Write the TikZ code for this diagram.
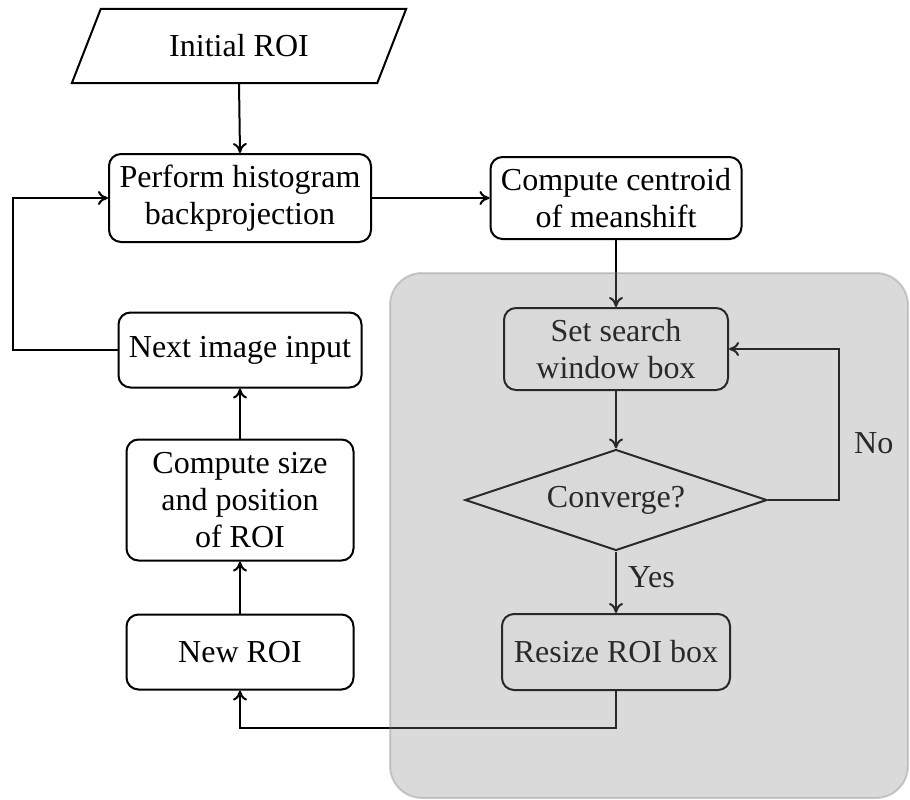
\documentclass[tikz,border=0pt]{standalone}
\usepackage{fontspec}
\setmainfont{Liberation Serif}
\usetikzlibrary{shapes.geometric,arrows.meta,calc}
\begin{document}
\begin{tikzpicture}[x=1pt,y=-1pt,
  every node/.style={font=\fontsize{32}{37}\selectfont, align=center, inner sep=2pt},
  box/.style={draw, line width=2pt, rounded corners=12pt, fill=white},
  conn/.style={line width=2pt, -{To[length=10pt,width=14pt]}},
  plain/.style={line width=2pt}
]
\useasboundingbox (0,0) rectangle (910,800);

% nodes
\node[minimum width=305pt, minimum height=74pt] (init) at (239,46) {Initial ROI};
\draw[plain, line join=miter] ($(init.south west)+(-14.5,0)$) -- ($(init.north west)+(14.5,0)$)
  -- ($(init.north east)+(14.5,0)$) -- ($(init.south east)+(-14.5,0)$) -- cycle;

\node[box, minimum width=262pt, minimum height=88pt] (perform) at (240,198) {Perform histogram\\backprojection};
\node[box, minimum width=251pt, minimum height=82pt] (centroid) at (616,198) {Compute centroid\\of meanshift};
\node[box, minimum width=243pt, minimum height=75pt] (next) at (240,350) {Next image input};
\node[box, minimum width=227pt, minimum height=121pt] (csize) at (240,500) {Compute size\\and position\\of ROI};
\node[box, minimum width=227pt, minimum height=75pt] (newroi) at (240,652) {New ROI};
\node[box, minimum width=224pt, minimum height=82pt] (setsearch) at (616,349) {Set search\\window box};
\node[draw, line width=2pt, shape=diamond, aspect=3, fill=white, minimum width=302pt, minimum height=101pt, inner sep=0pt] (conv) at (616,500) {Converge?};
\node[box, minimum width=228pt, minimum height=76pt] (resize) at (616,652) {Resize ROI box};

% connectors
\draw[conn] (init.south) -- (perform.north);
\draw[conn] (perform.east) -- (centroid.west);
\draw[conn] (centroid.south) -- (setsearch.north);
\draw[conn] (setsearch.south) -- (conv.north);
\draw[conn] (conv.east) -- ++(71,0) coordinate (nocorner) |- (setsearch.east);
\node[anchor=west] (nolabel) at (852,443) {No};
\draw[conn] (conv.south) -- (resize.north);
\node[anchor=west] (yeslabel) at (626,577) {Yes};
\draw[conn] (resize.south) -- ++(0,37) coordinate (bend) -| (newroi.south);
\draw[conn] (newroi.north) -- (csize.south);
\draw[conn] (csize.north) -- (next.south);
\draw[conn] (next.west) -- ++(-105,0) coordinate (loopcorner) |- (perform.west);

% translucent gray region on top
\draw[line width=2pt, draw=gray, draw opacity=0.35, fill=black!47, fill opacity=0.31, rounded corners=32pt]
  (390,273) rectangle (908,798);
\end{tikzpicture}
\end{document}
